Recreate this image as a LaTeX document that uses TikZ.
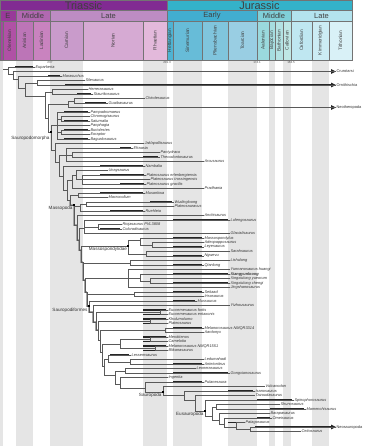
\documentclass[tikz,border=0pt]{standalone}
\usepackage{fontspec}
\setsansfont{Liberation Sans}
\usetikzlibrary{arrows.meta,calc,positioning}
% ICS colours
\definecolor{Tri}{RGB}{129,43,146}
\definecolor{ETr}{RGB}{152,57,153}
\definecolor{MTr}{RGB}{177,104,177}
\definecolor{LTr}{RGB}{189,140,195}
\definecolor{Ind}{RGB}{164,70,159}
\definecolor{Ole}{RGB}{176,81,165}
\definecolor{Ani}{RGB}{188,117,183}
\definecolor{Lad}{RGB}{201,131,191}
\definecolor{Car}{RGB}{201,155,203}
\definecolor{Nor}{RGB}{214,170,211}
\definecolor{Rha}{RGB}{227,185,219}
\definecolor{Jur}{RGB}{52,178,201}
\definecolor{EJu}{RGB}{66,174,208}
\definecolor{MJu}{RGB}{128,207,216}
\definecolor{LJu}{RGB}{179,227,238}
\definecolor{Het}{RGB}{78,179,211}
\definecolor{Sin}{RGB}{103,188,216}
\definecolor{Pli}{RGB}{128,197,221}
\definecolor{Toa}{RGB}{153,206,227}
\definecolor{Aal}{RGB}{154,217,221}
\definecolor{Baj}{RGB}{166,221,224}
\definecolor{Bat}{RGB}{179,226,227}
\definecolor{Cal}{RGB}{191,231,229}
\definecolor{Oxf}{RGB}{191,231,241}
\definecolor{Kim}{RGB}{204,236,244}
\definecolor{Tit}{RGB}{217,241,247}
\newcommand{\taxfont}{\sffamily\itshape\fontsize{3.9}{4.2}\selectfont}

\begin{document}
\begin{tikzpicture}[x=1pt,y=-1pt,>=Stealth]
  \tikzset{
    hbox/.style={draw=black!55,line width=0.3pt},
    taxon/.style={anchor=west,inner sep=0.4pt,font=\taxfont,text=black!80},
    group/.style={taxon,font=\sffamily\fontsize{3.9}{4.2}\selectfont},
    clade/.style={inner sep=0.3pt,font=\sffamily\fontsize{4.6}{5}\selectfont,text=black!80},
    br/.style={draw=black!65,line width=0.45pt},
    stem/.style={draw=black!35,line width=1.3pt},
    bar/.style={draw=black!85,line width=1.4pt},
    arr/.style={bar,-{Triangle[length=5pt,width=4.5pt]}},
    dot/.style={fill=black,inner sep=0pt,minimum size=1.8pt}
  }
  \useasboundingbox (0,0) rectangle (364,446);

  % stage stripes
  \foreach \a/\b in {0/3,16/33,50/83,143/167,173/202,228/257,269/275,283/291,312/329}
    \fill[black!10] (\a,60) rectangle (\b,446);

  % time scale
  \foreach \a/\b/\c/\t [count=\k] in {0/167/Tri/Triassic,167/352/Jur/Jurassic}{
    \draw[hbox,fill=\c] (\a,0) rectangle (\b,10.5);
    \node[font=\sffamily\fontsize{11}{11}\selectfont,text=black!75,inner sep=0pt] (per\k) at ({(\a+\b)/2},5.6) {\t};
  }
  \foreach \a/\b/\c/\t [count=\k] in {0/16/ETr/E,16/50/MTr/Middle,50/167/LTr/Late,
      167/257/EJu/Early,257/291/MJu/Middle,291/352/LJu/Late}{
    \draw[hbox,fill=\c] (\a,10.5) rectangle (\b,21);
    \node[font=\sffamily\fontsize{7.5}{7.5}\selectfont,text=black!75] (ep\k) at ({(\a+\b)/2},15.9) {\t};
  }
  \foreach \a/\b/\c/\t [count=\k] in {0/3/Ind/{},3/16/Ole/Olenekian,16/33/Ani/Anisian,33/50/Lad/Ladinian,
      50/83/Car/Carnian,83/143/Nor/Norian,143/167/Rha/Rhaetian,167/173/Het/Hettangian,
      173/202/Sin/Sinemurian,202/228/Pli/Pliensbachian,228/257/Toa/Toarcian,257/269/Aal/Aalenian,
      269/275/Baj/Bajocian,275/283/Bat/Bathonian,283/291/Cal/Callovian,291/312/Oxf/Oxfordian,
      312/329/Kim/Kimmeridgian,329/352/Tit/Tithonian}{
    \draw[hbox,fill=\c] (\a,21) rectangle (\b,60);
    \node[rotate=90,font=\sffamily\fontsize{4.8}{4.8}\selectfont,text=black!75] (st\k) at ({(\a+\b)/2},40.5) {\t};
  }
  \foreach \x/\t [count=\k] in {50/237,167/201.3,257/174.1,291/163.5}
    \node[font=\sffamily\fontsize{3}{3}\selectfont,text=black!70,inner sep=0pt] (age\k) at (\x,62.3) {\t};

  % terminal taxa: index/bar start/bar end/label x/name
  \foreach \i/\bs/\be/\lx/\nm [evaluate=\i as \yy using 67+4.5*(\i-1)] in {
      1/15/33/35/Euparkeria, 3/48/60/62/Marasuchus, 4/70/83/85/Silesaurus,
      6/72/86/88/Herrerasaurus, 7/77/91/93/Staurikosaurus, 8/83/143/145/Chindesaurus,
      9/85/106/108/Guaibasaurus, 11/64/88/90/Pampadromaeus, 12/64/88/90/Chromogisaurus,
      13/64/88/90/Saturnalia, 14/64/88/90/Panphagia, 15/64/88/90/Buriolestes,
      16/64/88/90/Eoraptor, 17/64/88/90/Bagualosaurus, 18/100/142/144/Jaklapallisaurus,
      19/120/131/133/Efraasia, 20/143/158/160/Pantydraco, 21/143/158/160/Thecodontosaurus,
      22/182/202/204/Arcusaurus, 23/100/143/145/Nambalia, 24/88/106/108/Unaysaurus,
      25/100/144/146/Plateosaurus erlenbergiensis, 26/120/148/150/Plateosaurus trossingensis,
      27/120/144/146/Plateosaurus gracilis, 28/173/202/204/Pradhania, 29/100/143/145/Musankwa,
      30/88/106/108/Macrocollum, 31/150/172/174/Wudingloong, 32/150/172/174/Plateosauravus,
      33/110/143/145/Ruehleia, 34/173/202/204/Anchisaurus, 35/173/228/230/Lufengosaurus,
      36/100/120/122/Riojasaurus PVL3808, 37/100/120/122/Coloradisaurus,
      38/202/228/230/Glacialisaurus, 39/173/202/204/Massospondylus, 40/173/202/204/Adeopapposaurus,
      41/173/202/204/Leyesaurus, 42/202/228/230/Sarahsaurus, 43/173/202/204/Ngwevu,
      44/202/228/230/Lishulong, 45/173/202/204/Qianlong, 46/173/228/230/Yunnanosaurus huangi,
      47/173/228/230/\textbf{Xiangyunloong}, 48/173/228/230/Xingxiulong yueorum,
      49/173/228/230/Xingxiulong chengi, 50/173/228/230/Jingshanosaurus,
      51/173/202/204/Seitaad, 52/173/202/204/Irisosaurus, 53/173/195/197/Mussaurus,
      54/173/228/230/Yizhousaurus, 55/143/166/168/Eucnemesaurus fortis,
      56/143/166/168/Eucnemesaurus entaxonis, 57/143/166/168/Kholumolumo,
      58/143/166/168/Plateosaurus, 59/173/202/204/Melanorosaurus NMQR3314,
      60/173/202/204/Aardonyx, 61/143/166/168/Meroktenos, 62/143/166/168/Camelotia,
      63/143/166/168/Melanorosaurus NMQR1551, 64/143/166/168/Blikanasaurus,
      65/110/129/131/Lessemsaurus, 66/173/202/204/Ledumahadi, 67/173/202/204/Antetonitrus,
      68/173/194/196/Leonerasaurus, 69/173/228/230/Gongxianosaurus, 70/143/166/168/Ingentia,
      71/173/202/204/Pulanesaura, 72/175/205/265/Vulcanodon, 73/228/253/255/Isanosaurus,
      74/228/253/255/Tazoudasaurus, 75/257/292/294/Spinophorosaurus, 76/260/278/280/Shunosaurus,
      77/270/304/306/Mamenchisaurus, 78/228/268/270/Barapasaurus, 79/257/270/272/Omeisaurus,
      80/228/243/245/Patagosaurus, 82/260/299/301/Cetiosaurus}{
    \node[taxon] (t\i) at (\lx,\yy) {\nm};
    \draw[bar] (\bs,\yy) -- (\be,\yy);
  }
  % lineages running on
  \foreach \i/\bs/\nm [evaluate=\i as \yy using 67+4.5*(\i-1)] in {
      2/20/Crurotarsi, 5/65/Ornithischia, 10/80/Neotheropoda, 81/255/Neosauropoda}{
    \node[group] (t\i) at (336,\yy) {\nm};
    \draw[arr] (\bs,\yy) -- (t\i.west);
  }

  % internal nodes
  \foreach \n/\x/\y in {n0/3/69, n1/8/69, n2/13/74, n3/18/79, n4/25/88, n5/37/83, n6/45/96,
      n7/52/92, n8/48/118, n9/68/104, n9a/74/100.75, n10/51/132, n11/57/125.5, n11a/61/118.75,
      n11b/61/132.25, nb1/55/150, nb2/59/162, n14/66/155, n14a/72/154.75, nb3/63/176,
      nb4/67/190, n16/72/180, n16b/76/175, n16a/82/179.5, nb5/70/200, n17/78/195.25,
      nb6/74/205, n18/80/206.5, n18a/86/204.25, nb7/77/225, nb8/79/240, n19/84/228,
      n19a/98/226.75, nb9/81/250, n20/128/246, n20a/140/240, n20b/152/244.75, n20c/146/253.75,
      nb10/83/262, n21/130/262.75, nb11/85/280, n22/128/278.5, n22a/140/278, n22b/150/280.75,
      nb12/87/292, n23/134/294.25, nb13/89/306, nb14/93/312, nb15/96/322, n24/160/312.25,
      nb16/98/330, n25/150/321.25, nb17/100/340, n26/165/330.25, nb18/102/352,
      n27/120/343.75, n27a/150/339.25, n27b/155/348.25, nb19/104/366, n28/108/359.5,
      n28a/130/361.75, nb20/115/375, n29/125/370.75, nb21/120/384, nb22/145/388,
      n30/163/392, n31/184/395, n31a/195/400, n32/205/411, n33/212/416, n33a/216/406.75,
      n34/219/420, n35/224/424, n36/236/427, n37/250/429.25}
    \coordinate (\n) at (\x,\y);

  % grey backbone through Massopoda
  \foreach \p/\c in {nb5/nb6, nb6/nb7, nb7/nb8, nb8/nb9, nb9/nb10, nb10/nb11, nb11/nb12,
      nb12/nb13, nb13/nb14, nb14/nb15, nb15/nb16}
    \draw[stem] (\p) |- (\c);

  % branches
  \foreach \p/\c in {n0/n1, n1/t1, n1/n2, n2/t2, n2/n3, n3/t3, n3/n4, n4/n5, n4/n6, n5/t4, n5/t5,
      n6/n7, n6/n8, n7/t6, n7/t7, n8/n9, n8/n10, n9/n9a, n9/t10, n9a/t8, n9a/t9,
      n10/n11, n10/nb1, n11/t11, n11/n11a, n11/t14, n11/n11b, n11/t17, n11a/t12, n11a/t13,
      n11b/t15, n11b/t16, nb1/t18, nb1/nb2, nb2/n14, nb2/nb3, n14/t19, n14/n14a, n14/t22,
      n14a/t20, n14a/t21, nb3/t23, nb3/nb4, nb4/n16, nb4/nb5, n16/n16b, n16/t28, n16b/t24,
      n16b/n16a, n16a/t25, n16a/t26, n16a/t27, nb5/n17, nb5/nb6, n17/t29, n17/t30,
      nb6/n18, nb6/nb7, n18/n18a, n18/t33, n18a/t31, n18a/t32, nb7/t34, nb7/nb8,
      nb8/n19, nb8/nb9, n19/t35, n19/n19a, n19/t38, n19a/t36, n19a/t37, nb9/n20, nb9/nb10,
      n20/n20a, n20/n20c, n20a/t39, n20a/n20b, n20b/t40, n20b/t41, n20c/t42, n20c/t43,
      nb10/n21, nb10/nb11, n21/t44, n21/t45, nb11/n22, nb11/nb12, n22/t46, n22/n22a, n22/t50,
      n22a/t47, n22a/n22b, n22b/t48, n22b/t49, nb12/n23, nb12/nb13, n23/t51, n23/t52,
      nb13/t53, nb13/nb14, nb14/t54, nb14/nb15, nb15/n24, nb15/nb16, n24/t55, n24/t56,
      nb16/n25, nb16/nb17, n25/t57, n25/t58, nb17/n26, nb17/nb18, n26/t59, n26/t60,
      nb18/n27, nb18/nb19, n27/n27a, n27/n27b, n27a/t61, n27a/t62, n27b/t63, n27b/t64,
      nb19/n28, nb19/nb20, n28/t65, n28/n28a, n28a/t66, n28a/t67, nb20/n29, nb20/nb21,
      n29/t68, n29/t69, nb21/t70, nb21/nb22, nb22/t71, nb22/n30, n30/t72, n30/n31,
      n31/t73, n31/n31a, n31a/t74, n31a/n32, n32/t75, n32/n33, n33/n33a, n33/n34,
      n33a/t76, n33a/t77, n34/t78, n34/n35, n35/t79, n35/n36, n36/t80, n36/n37,
      n37/t81, n37/t82}
    \draw[br] (\p) |- (\c);

  % named clades
  \foreach \n in {n10,nb6,n20,nb13,n30,n32}
    \node[dot] at (\n) {};
  \node[clade,below left=4pt and 1pt of n10] (lSm) {Sauropodomorpha};
  \node[clade,below left=0.8pt and 1pt of nb6] (lMp) {Massopoda};
  \node[clade,below left=1pt and 0.5pt of n20] (lMs) {Massospondylidae};
  \node[clade,below left=1.2pt and 1pt of nb13] (lSf) {Sauropodiformes};
  \node[clade,below left=0.5pt and 1pt of n30] (lSp) {Sauropoda};
  \node[clade,below left=0.5pt and 1pt of n32] (lEs) {Eusauropoda};
\end{tikzpicture}
\end{document}
